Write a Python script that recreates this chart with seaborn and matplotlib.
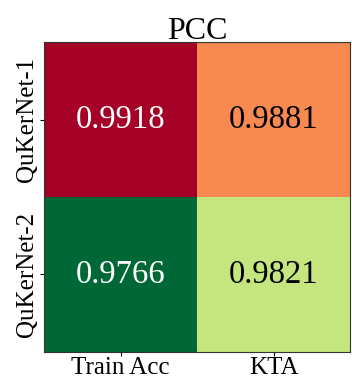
import numpy as np
import pandas as pd
import matplotlib
matplotlib.use("Agg")
import matplotlib.pyplot as plt
import seaborn as sns

# data
models = ["QuKerNet-1", "QuKerNet-2"]
metrics = ["Train Acc", "KTA"]
pcc_qukernet1 = [0.9918, 0.9881]
pcc_qukernet2 = [0.9766, 0.9821]

df = pd.DataFrame([pcc_qukernet1, pcc_qukernet2], index=models, columns=metrics)

sns.set_theme(style="white")
plt.rcParams["font.family"] = ["Liberation Serif", "DejaVu Serif"]
plt.rcParams["text.color"] = "black"
plt.rcParams["xtick.color"] = "black"
plt.rcParams["ytick.color"] = "black"

fig = plt.figure(figsize=(3.52, 3.8), dpi=100)
ax = fig.add_axes([0.125, 0.074, 0.87, 0.815])
sns.heatmap(df, ax=ax, cmap="RdYlGn_r", annot=False, cbar=False)

# annotate: white text on dark cells, black on light
vals = df.values
for i in range(vals.shape[0]):
    for j in range(vals.shape[1]):
        v = vals[i, j]
        frac = (v - vals.min()) / (vals.max() - vals.min())
        col = "white" if (frac > 0.85 or frac < 0.15) else "black"
        ax.text(j + 0.5, i + 0.5, f"{v:.4f}", ha="center", va="center",
                fontsize=23.5, color=col)

ax.set_title("PCC", fontsize=23, pad=2, color="black")
ax.tick_params(axis="both", labelsize=18, length=3, width=0.8,
               bottom=True, left=True, pad=1)
ax.set_yticklabels(models, rotation=90, va="center")
ax.set_xlabel("")
ax.set_ylabel("")
for s in ax.spines.values():
    s.set_visible(True)
    s.set_color("#333333")
    s.set_linewidth(0.8)

fig.savefig("out.png", dpi=100)
